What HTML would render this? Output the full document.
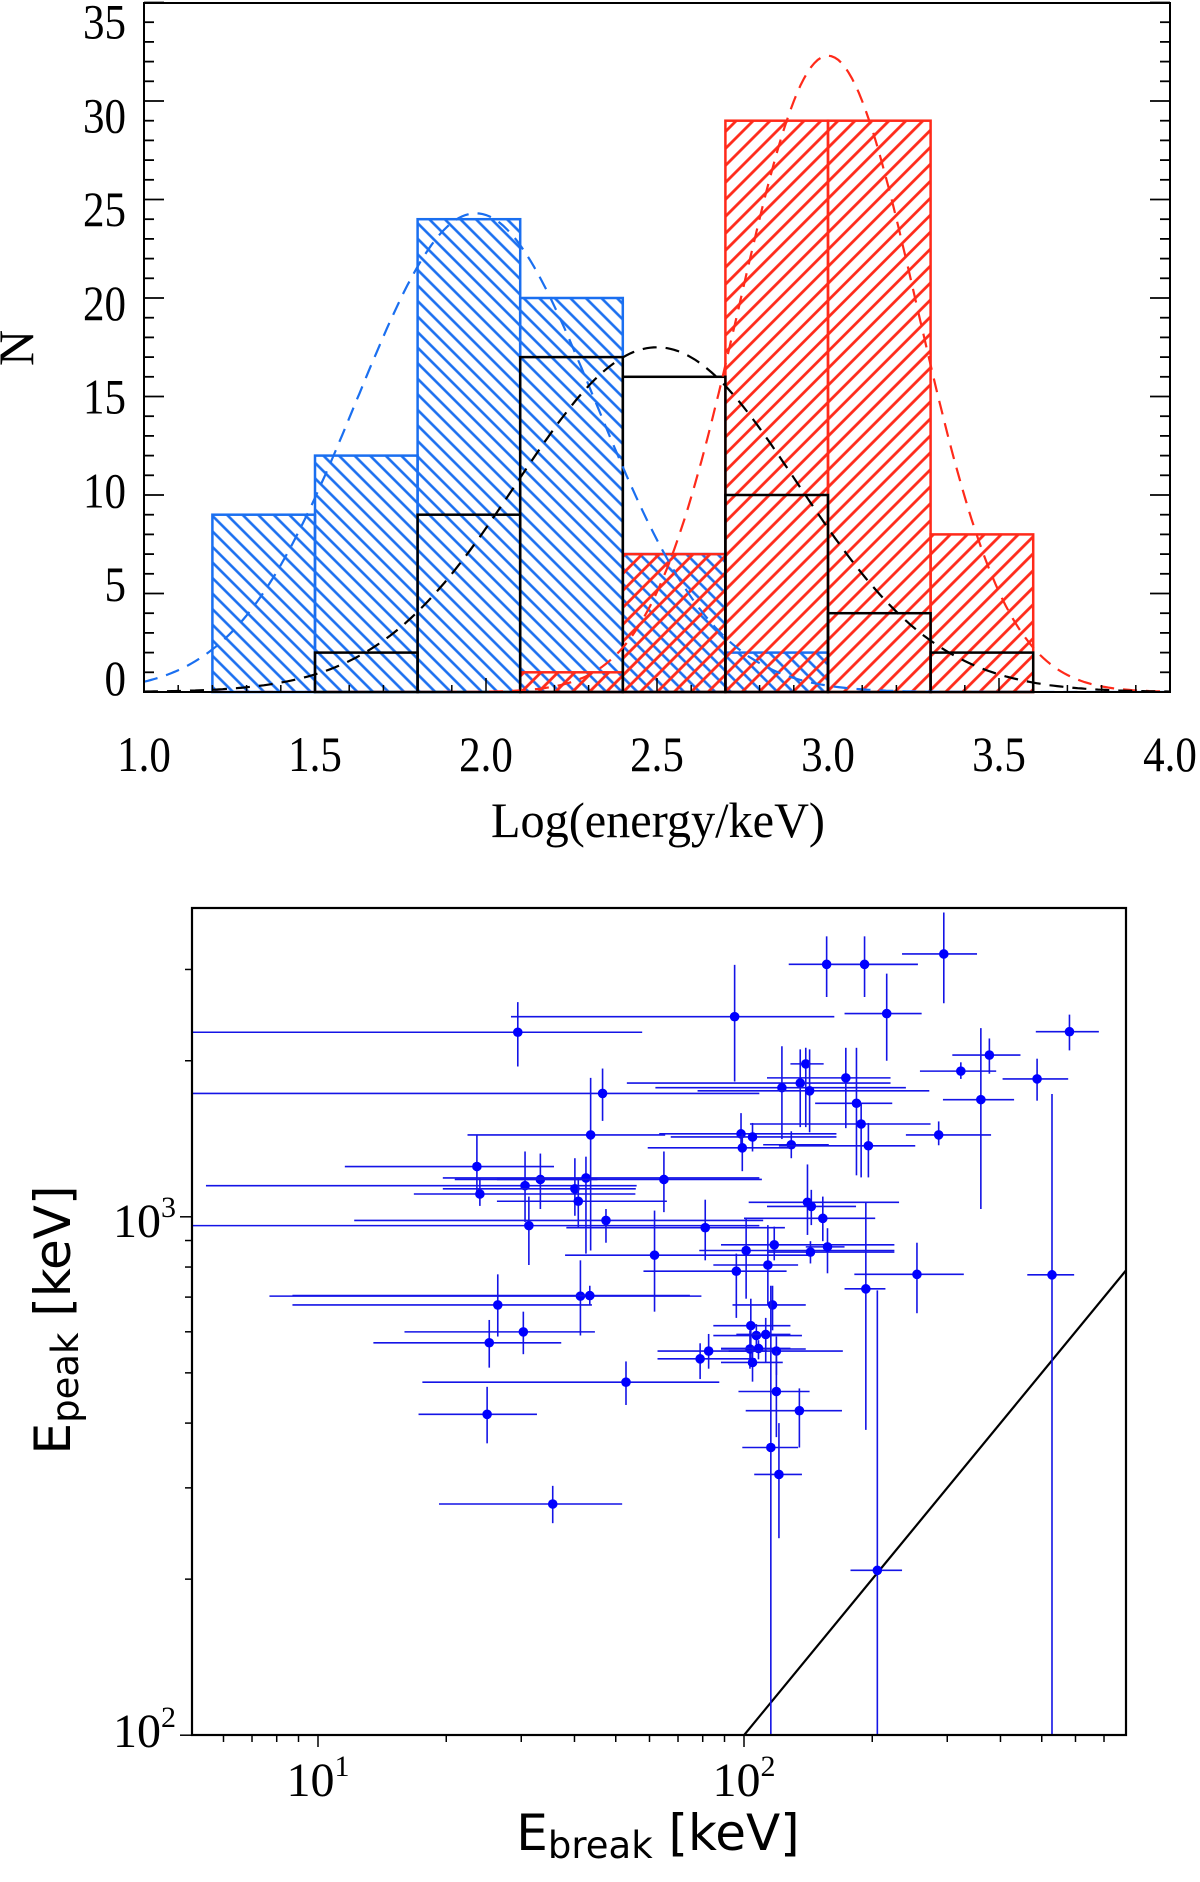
<!DOCTYPE html>
<html><head><meta charset="utf-8"><style>
html,body{margin:0;padding:0;background:#fff;width:1200px;height:1882px;overflow:hidden;}
svg{display:block;}
</style></head><body>
<svg id="fig" width="1200" height="1882" viewBox="0 0 1200 1882" xmlns="http://www.w3.org/2000/svg">
<defs>
<pattern id="hatchBlue" patternUnits="userSpaceOnUse" width="11" height="11" patternTransform="rotate(-45)">
<line x1="5.5" y1="0" x2="5.5" y2="11" stroke="#1a6ff0" stroke-width="2.6"/>
</pattern>
<pattern id="hatchRed" patternUnits="userSpaceOnUse" width="12" height="12" patternTransform="rotate(45)">
<line x1="6" y1="0" x2="6" y2="12" stroke="#ff2a1a" stroke-width="2.8"/>
</pattern>
<clipPath id="clipTop"><rect x="144" y="3" width="1026" height="689"/></clipPath>
<clipPath id="clipBot"><rect x="192" y="908" width="934" height="827"/></clipPath>
</defs>
<g id="topPanel"></g>
<g id="botPanel"></g>
</svg>
<script>
// ---------- Top histogram data ----------
const binEdges = [1.2, 1.5, 1.8, 2.1, 2.4, 2.7, 3.0, 3.3, 3.6];
const blueCounts = [9, 12, 24, 20, 7, 2, 0, 0];
const redCounts = [0, 0, 0, 1, 7, 29, 29, 8];
const blackCounts = [0, 2, 9, 17, 16, 10, 4, 2];
const blueFit = [24.3, 1.97, 0.35];   // amplitude, mean, sigma
const redFit = [32.3, 3.0, 0.26];
const blackFit = [17.5, 2.5, 0.41];
const yTicks = [0, 5, 10, 15, 20, 25, 30, 35];
const xTicks = [1.0, 1.5, 2.0, 2.5, 3.0, 3.5, 4.0];

// ---------- Bottom scatter data (log10 keV) ----------
const logEbreak =   [2.194,2.283,2.469,2.335,1.978,1.469,2.764,2.576,2.509,2.145,2.239,2.132,2.089,2.154,1.668,2.688,2.556,2.264,2.275,1.993,2.020,1.640,2.457,2.111,2.292,1.996,1.373,1.380,1.486,1.522,1.629,1.603,1.812,1.611,1.495,1.676,1.909,2.149,2.158,2.185,1.790,2.005,2.071,2.156,2.196,2.056,1.982,2.406,2.723,2.286,1.616,1.638,1.422,2.067,1.482,2.016,2.029,2.051,1.402,2.014,2.034,2.076,1.917,1.897,2.020,1.723,2.076,1.397,2.130,2.063,2.082,1.551,2.313];
const logEbreakLo = [2.105,2.208,2.371,2.236,1.453,0.500,2.685,2.489,2.413,2.109,2.054,1.725,1.792,1.891,0.500,2.607,2.467,2.167,2.014,1.801,1.828,1.351,2.380,2.045,2.082,1.774,1.063,1.225,0.737,1.321,1.293,1.293,1.420,1.420,0.500,1.085,1.583,2.011,2.054,2.000,1.580,1.895,1.946,2.054,2.145,1.928,1.764,2.259,2.665,2.236,0.886,0.940,0.940,1.973,1.203,1.928,1.928,1.982,1.130,1.946,1.946,1.964,1.797,1.797,1.946,1.245,1.987,1.236,2.004,1.996,2.024,1.284,2.250];
const logEbreakHi = [2.408,2.408,2.547,2.417,2.212,1.761,2.833,2.649,2.592,2.187,2.344,2.344,2.380,2.435,2.036,2.761,2.634,2.348,2.438,2.217,2.217,1.815,2.580,2.199,2.402,2.109,1.554,1.745,1.748,1.656,2.036,1.746,2.042,1.819,2.036,2.045,2.096,2.364,2.263,2.308,2.163,2.353,2.353,2.353,2.236,2.127,2.100,2.516,2.775,2.332,1.900,1.873,1.643,2.145,1.650,2.109,2.136,2.109,1.571,2.145,2.109,2.232,2.054,2.027,2.091,1.942,2.154,1.514,2.230,2.127,2.136,1.714,2.371];
const logEpeak =    [3.487,3.487,3.507,3.392,3.386,3.356,3.357,3.312,3.281,3.295,3.268,3.258,3.249,3.243,3.238,3.266,3.226,3.219,3.179,3.160,3.154,3.158,3.158,3.139,3.137,3.133,3.097,3.044,3.060,3.072,3.075,3.054,3.072,3.030,2.983,2.993,2.979,3.028,3.020,2.997,2.926,2.935,2.946,2.932,2.942,2.907,2.895,2.889,2.888,2.861,2.847,2.848,2.830,2.830,2.778,2.790,2.771,2.773,2.757,2.745,2.746,2.741,2.741,2.726,2.719,2.681,2.663,2.619,2.626,2.555,2.503,2.446,2.318];
const logEpeakHi =  [3.541,3.541,3.587,3.469,3.486,3.414,3.390,3.344,3.298,3.326,3.326,3.323,3.329,3.323,3.286,3.305,3.364,3.326,3.219,3.200,3.181,3.268,3.184,3.165,3.181,3.160,3.158,3.074,3.126,3.122,3.116,3.113,3.126,3.076,3.039,3.015,3.033,3.101,3.052,3.039,3.012,2.996,2.981,2.953,2.978,2.984,2.929,2.950,3.237,3.027,2.916,2.867,2.889,2.867,2.817,2.842,2.793,2.805,2.801,2.781,2.762,2.769,2.774,2.756,2.750,2.721,2.741,2.672,2.669,2.867,2.602,2.481,2.858];
const logEpeakLo =  [3.424,3.424,3.412,3.301,3.261,3.290,3.321,3.276,3.266,3.173,3.171,3.173,3.150,3.163,3.185,3.224,3.015,3.080,3.076,3.126,3.126,2.935,3.138,3.113,3.076,3.088,3.039,3.021,2.990,3.015,2.929,3.002,3.009,2.978,2.907,2.950,2.916,2.965,2.984,2.953,2.817,2.842,2.916,2.910,2.891,2.830,2.805,2.814,1.500,2.589,2.771,2.830,2.769,2.781,2.735,2.719,2.744,2.719,2.709,2.707,2.725,2.695,2.707,2.687,2.682,2.637,2.575,2.563,2.555,1.500,2.380,2.409,1.500];
const diagLine = [1.5, 3.5]; // Epeak = Ebreak, log range

const SVGNS = 'http://www.w3.org/2000/svg';
function mk(parent, tag, attrs, text) {
  const e = document.createElementNS(SVGNS, tag);
  for (const k in attrs) e.setAttribute(k, attrs[k]);
  if (text !== undefined) e.textContent = text;
  parent.appendChild(e);
  return e;
}

// ================= TOP PANEL =================
const topG = document.getElementById('topPanel');
const tx = v => 144 + (v - 1) * 342;
const ty = n => 692 - n * 19.7;
const SERIF = '"Liberation Serif", serif';

const gBlue = mk(topG, 'g', {});


const gRed = mk(topG, 'g', {});


const gBlack = mk(topG, 'g', {});



for (let i = 0; i < blueCounts.length; i++) {
  if (blueCounts[i] <= 0) continue;
  const x0 = tx(binEdges[i]), x1 = tx(binEdges[i + 1]), y = ty(blueCounts[i]);
  const r = mk(gBlue, 'rect', {x: x0, y: y, width: x1 - x0, height: ty(0) - y, fill: 'url(#hatchBlue)', stroke: '#1a6ff0', 'stroke-width': 2.5});
  
  
}
for (let i = 0; i < redCounts.length; i++) {
  if (redCounts[i] <= 0) continue;
  const x0 = tx(binEdges[i]), x1 = tx(binEdges[i + 1]), y = ty(redCounts[i]);
  const r = mk(gRed, 'rect', {x: x0, y: y, width: x1 - x0, height: ty(0) - y, fill: 'url(#hatchRed)', stroke: '#ff2a1a', 'stroke-width': 2.5});
  
  
}
for (let i = 0; i < blackCounts.length; i++) {
  if (blackCounts[i] <= 0) continue;
  const x0 = tx(binEdges[i]), x1 = tx(binEdges[i + 1]), y = ty(blackCounts[i]);
  const r = mk(gBlack, 'rect', {x: x0, y: y, width: x1 - x0, height: ty(0) - y, fill: 'none', stroke: '#000', 'stroke-width': 2.5});
  
  
}

function gaussPath(p) {
  let d = '';
  for (let v = 1.0; v <= 4.0001; v += 0.01) {
    const n = p[0] * Math.exp(-Math.pow(v - p[1], 2) / (2 * p[2] * p[2]));
    d += (d ? 'L' : 'M') + tx(v).toFixed(1) + ',' + ty(n).toFixed(1);
  }
  return d;
}
const gFits = mk(topG, 'g', {'clip-path': 'url(#clipTop)'});


[[blueFit, '#1a6ff0', 'blue-fit-curve'], [redFit, '#ff2a1a', 'red-fit-curve'], [blackFit, '#000', 'black-fit-curve']].forEach(f => {
  const p = mk(gFits, 'path', {d: gaussPath(f[0]), fill: 'none', stroke: f[1], 'stroke-width': 2.2, 'stroke-dasharray': '14 9'});
  
  
});

const frameT = mk(topG, 'rect', {x: 144, y: 3, width: 1026, height: 689, fill: 'none', stroke: '#000', 'stroke-width': 2});


for (let n = 0; n <= 35; n++) {
  const L = (n % 5 === 0) ? 20 : 10;
  mk(topG, 'line', {x1: 144, x2: 144 + L, y1: ty(n), y2: ty(n), stroke: '#000', 'stroke-width': 1.8});
  mk(topG, 'line', {x1: 1170, x2: 1170 - L, y1: ty(n), y2: ty(n), stroke: '#000', 'stroke-width': 1.8});
}
for (let k = 0; k <= 30; k++) {
  const v = 1 + k * 0.1;
  const L = (k % 5 === 0) ? 14 : 7;
  mk(topG, 'line', {x1: tx(v), x2: tx(v), y1: 692, y2: 692 - L, stroke: '#000', 'stroke-width': 1.5});
}
// IDL-style labels: slightly compressed spacing relative to ticks
yTicks.forEach(n => {
  const cy = 21.6 + (35 - n) * 18.75;
  const t = mk(topG, 'text', {x: 0, y: 0, 'text-anchor': 'end', 'font-family': SERIF, 'font-size': 50, transform: 'translate(126,' + (cy + 17) + ') scale(0.86,1)'}, String(n));
  
  
});
xTicks.forEach(v => {
  const t = mk(topG, 'text', {x: 0, y: 0, 'text-anchor': 'middle', 'font-family': SERIF, 'font-size': 50, transform: 'translate(' + tx(v) + ',771) scale(0.86,1)'}, v.toFixed(1));
  
  
});
const xt = mk(topG, 'text', {x: 658, y: 837, 'text-anchor': 'middle', 'font-family': SERIF, 'font-size': 50, textLength: 334, lengthAdjust: 'spacingAndGlyphs'}, 'Log(energy/keV)');


const yt = mk(topG, 'text', {x: 0, y: 0, 'text-anchor': 'middle', 'font-family': SERIF, 'font-size': 50, transform: 'translate(33,348) rotate(-90)'}, 'N');



// ================= BOTTOM PANEL =================
const botG = document.getElementById('botPanel');
const bx = lx => 318 + (lx - 1) * 426;
const by = ly => 1735.2 - (ly - 2) * 518.4;
const BL = 192, BR = 1126, BT = 908, BB = 1735;

const gData = mk(botG, 'g', {'clip-path': 'url(#clipBot)'});


const dl = mk(gData, 'line', {x1: bx(diagLine[0]), y1: by(diagLine[0]), x2: bx(diagLine[1]), y2: by(diagLine[1]), stroke: '#000', 'stroke-width': 2.2});


for (let i = 0; i < logEbreak.length; i++) {
  const g = mk(gData, 'g', {});
  
  
  mk(g, 'line', {x1: bx(logEbreakLo[i]), x2: bx(logEbreakHi[i]), y1: by(logEpeak[i]), y2: by(logEpeak[i]), stroke: '#1414e6', 'stroke-width': 1.6});
  mk(g, 'line', {x1: bx(logEbreak[i]), x2: bx(logEbreak[i]), y1: by(logEpeakLo[i]), y2: by(logEpeakHi[i]), stroke: '#1414e6', 'stroke-width': 1.6});
  mk(g, 'circle', {cx: bx(logEbreak[i]), cy: by(logEpeak[i]), r: 4.8, fill: '#0000ff'});
}
const frameB = mk(botG, 'rect', {x: BL, y: BT, width: BR - BL, height: BB - BT, fill: 'none', stroke: '#000', 'stroke-width': 2.2});


for (let dec = 0; dec <= 2; dec++) {
  for (let m = 1; m <= 9; m++) {
    const v = dec + Math.log10(m);
    if (bx(v) < BL - 0.5 || bx(v) > BR + 0.5) continue;
    const L = m === 1 ? 12 : 7;
    mk(botG, 'line', {x1: bx(v), x2: bx(v), y1: BB, y2: BB + L, stroke: '#000', 'stroke-width': 1.5});
  }
}
for (let dec = 2; dec <= 3; dec++) {
  for (let m = 1; m <= 9; m++) {
    const v = dec + Math.log10(m);
    if (by(v) < BT - 0.5) continue;
    const L = m === 1 ? 12 : 7;
    mk(botG, 'line', {x1: BL, x2: BL - L, y1: by(v), y2: by(v), stroke: '#000', 'stroke-width': 1.5});
  }
}
function powLabel(x, y, base, exp, anchor, name) {
  const t = mk(botG, 'text', {x: x, y: y, 'text-anchor': anchor, 'font-family': SERIF, 'font-size': 48});
  
  
  mk(t, 'tspan', {}, base);
  mk(t, 'tspan', {dy: -20, 'font-size': 30}, exp);
  return t;
}
powLabel(bx(1), 1796, '10', '1', 'middle', 'x-tick-label');
powLabel(bx(2), 1796, '10', '2', 'middle', 'x-tick-label');
powLabel(176, by(3) + 20, '10', '3', 'end', 'y-tick-label');
powLabel(176, by(2) + 12, '10', '2', 'end', 'y-tick-label');

const bxt = mk(botG, 'text', {x: 658, y: 1850, 'text-anchor': 'middle', 'font-family': '"DejaVu Sans", sans-serif', 'font-size': 50});


mk(bxt, 'tspan', {}, 'E');
mk(bxt, 'tspan', {'font-size': 37, dy: 8}, 'break');
mk(bxt, 'tspan', {dy: -8}, ' [keV]');
const byt = mk(botG, 'text', {x: 0, y: 0, 'text-anchor': 'middle', 'font-family': '"DejaVu Sans", sans-serif', 'font-size': 50, transform: 'translate(70,1320) rotate(-90)'});


mk(byt, 'tspan', {}, 'E');
mk(byt, 'tspan', {'font-size': 37, dy: 8}, 'peak');
mk(byt, 'tspan', {dy: -8}, ' [keV]');
</script>
</body></html>
